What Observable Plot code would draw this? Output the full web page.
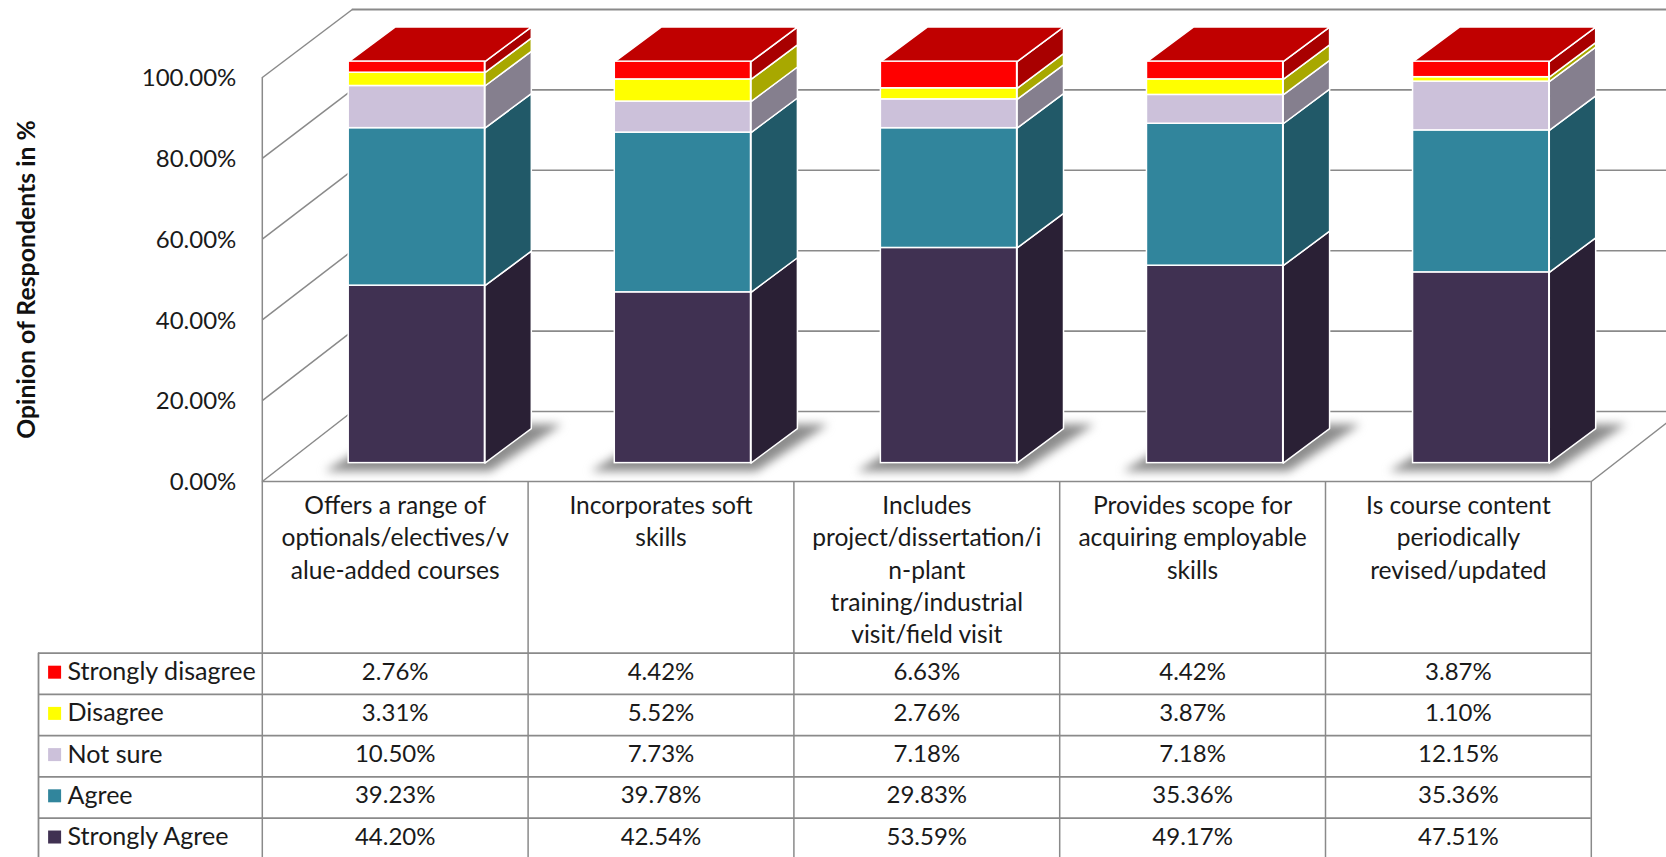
<!DOCTYPE html>
<html><head><meta charset="utf-8">
<style>html,body{margin:0;padding:0;background:#fff;overflow:hidden}svg{display:block}</style>
<script src="https://cdn.jsdelivr.net/npm/d3@7"></script>
<script src="https://cdn.jsdelivr.net/npm/@observablehq/plot@0.6"></script>
</head><body><script>
const categories = [
  "Offers a range of\noptionals/electives/v\nalue-added courses",
  "Incorporates soft\nskills",
  "Includes\nproject/dissertation/i\nn-plant\ntraining/industrial\nvisit/field visit",
  "Provides scope for\nacquiring employable\nskills",
  "Is course content\nperiodically\nrevised/updated"
];
const seriesNames = ["Strongly Agree","Agree","Not sure","Disagree","Strongly disagree"];
const stronglyAgree = [44.20,42.54,53.59,49.17,47.51];
const agree = [39.23,39.78,29.83,35.36,35.36];
const notSure = [10.50,7.73,7.18,7.18,12.15];
const disagree = [3.31,5.52,2.76,3.87,1.10];
const stronglyDisagree = [2.76,4.42,6.63,4.42,3.87];
const seriesValues = [stronglyAgree,agree,notSure,disagree,stronglyDisagree];
const frontColors = ["#403152","#31859C","#CCC1DA","#FFFF00","#FF0000"];
const sideColors = ["#2A2035","#215968","#857F8E","#A8A800","#A80000"];
const topColor = "#C00000";
const yTicks = [0,20,40,60,80,100];
const tableRowOrder = [4,3,2,1,0];

const font = "Lato, sans-serif";
const lineColor = "#8a8a8a";
// oblique-projection constants, in data units of the x (category) and y (percent) scales
const wallDx = 0.3386, wallDy = 17.33, wallK = 402/404;
const barX0 = 0.325, barW = 0.5125, barStep = 1.0011;
const barBase = 4.55, barK = 401.5/404, barDx = 0.1746, barDy = 8.56;
const barY = v => barBase + v*barK;
const tableTop = -42.5, rowH = 10.2;
const leftEdge = -0.842;

const fronts = [], polys = [], shadows = [];
categories.forEach((c,i)=>{
  const xl = i*barStep + barX0, xr = xl + barW;
  shadows.push(
    {id:i,x:xl-0.09,y:barBase-2},{id:i,x:xr+0.02,y:barBase-2},
    {id:i,x:xr+0.29,y:barBase+9.6},{id:i,x:xl+0.2,y:barBase+9.6}
  );
  let acc = 0;
  seriesValues.forEach((vals,s)=>{
    const lo = acc, hi = acc + vals[i]; acc = hi;
    fronts.push({x1:xl,x2:xr,y1:barY(lo),y2:barY(hi),fill:frontColors[s]});
    const id = `s${i}-${s}`, fill = sideColors[s];
    [[xr,barY(lo)],[xr+barDx,barY(lo)+barDy],[xr+barDx,barY(hi)+barDy],[xr,barY(hi)],[xr,barY(lo)]]
      .forEach(([x,y])=>polys.push({id,fill,x,y}));
  });
  const t = barY(acc), id = `t${i}`;
  [[xl,t],[xr,t],[xr+barDx,t+barDy],[xl+barDx,t+barDy],[xl,t]]
    .forEach(([x,y])=>polys.push({id,fill:topColor,x,y}));
});

const wallLines = yTicks.map(v=>({x1:0,y1:v,x2:wallDx,y2:v*wallK+wallDy}));
const backGrid = yTicks.map(v=>({y:v*wallK+wallDy,w:v===100?2.2:1.6}));
const rowLines = [0,1,2,3,4,5].map(k=>tableTop-k*rowH);
const rowCenter = k => tableTop-(k+0.5)*rowH+0.4;
const cells = [];
tableRowOrder.forEach((s,k)=>categories.forEach((_,i)=>cells.push({i,k,t:seriesValues[s][i].toFixed(2)+"%"})));

const plot = Plot.plot({
  width:1666,height:857,
  marginLeft:261.8,marginRight:75.2,marginTop:77,marginBottom:376,
  x:{domain:[0,5],axis:null},
  y:{domain:[0,100]},
  color:{type:"identity"},
  style:{fontFamily:font,background:"#fff",color:"#1a1a1a"},
  marks:[
    // walls and floor
    Plot.link(wallLines,{x1:"x1",y1:"y1",x2:"x2",y2:"y2",stroke:lineColor,strokeWidth:1.5}),
    Plot.ruleY(backGrid,{y:"y",x1:wallDx,x2:5+wallDx,stroke:lineColor,strokeWidth:"w"}),
    Plot.link([{x1:5,y1:0,x2:5+wallDx,y2:wallDy}],{x1:"x1",y1:"y1",x2:"x2",y2:"y2",stroke:lineColor,strokeWidth:1.5}),
    Plot.line(shadows,{x:"x",y:"y",z:"id",fill:"#8c8c8c",stroke:null,
      render(index,scales,values,dims,ctx,next){const g=next(index,scales,values,dims,ctx);g.style.filter="blur(5px)";return g;}}),
    // bars
    Plot.line(polys,{x:"x",y:"y",z:"id",fill:"fill",stroke:"#fff",strokeWidth:1.5,curve:"linear"}),
    Plot.rect(fronts,{x1:"x1",x2:"x2",y1:"y1",y2:"y2",fill:"fill",stroke:"#fff",strokeWidth:1.5}),
    // table grid
    Plot.ruleX(d3.range(0,6),{x:d=>d,y1:tableTop-5*rowH,y2:0,stroke:lineColor,strokeWidth:1.5}),
    Plot.ruleX([0],{x:d=>d,y1:0,y2:100,stroke:lineColor,strokeWidth:1.5}),
    Plot.ruleY([0],{x1:0,x2:5,stroke:lineColor,strokeWidth:1.5}),
    Plot.ruleY(rowLines,{x1:leftEdge,x2:5,stroke:lineColor,strokeWidth:1.8}),
    Plot.ruleX([leftEdge],{x:d=>d,y1:tableTop-5*rowH,y2:tableTop,stroke:lineColor,strokeWidth:1.8}),
    // axis
    Plot.axisY(yTicks,{tickSize:0,tickPadding:26,tickFormat:d=>d.toFixed(2)+"%",fontSize:24,label:null,fill:"#1a1a1a",dy:1}),
    Plot.text(["Opinion of Respondents in %"],{x:-0.884,y:50,rotate:-90,fontSize:24.8,fontWeight:"bold",fill:"#111"}),
    // category labels
    Plot.text(categories,{x:(d,i)=>i+0.5,y:-2.3,lineAnchor:"top",lineHeight:1.317,fontSize:24.6,fill:"#1a1a1a",textOverflow:null}),
    // table
    Plot.dot(tableRowOrder,{x:-0.7814,y:(s,k)=>rowCenter(k),symbol:"square",r:7.33,fill:s=>frontColors[s],stroke:null}),
    Plot.text(tableRowOrder,{x:-0.733,y:(s,k)=>rowCenter(k),text:s=>seriesNames[s],textAnchor:"start",fontSize:25.1,fill:"#1a1a1a"}),
    Plot.text(cells,{x:d=>d.i+0.5,y:d=>rowCenter(d.k),text:"t",fontSize:24,fill:"#1a1a1a"})
  ]
});
document.body.appendChild(plot);
</script></body></html>
